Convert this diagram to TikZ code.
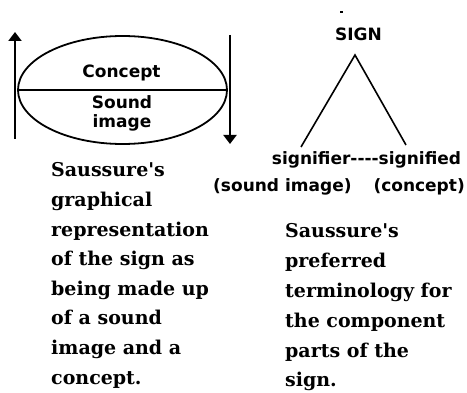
\documentclass[tikz,border=0pt]{standalone}
\usepackage{fontspec}
\newfontfamily\labelfont{DejaVu Sans}
\newfontfamily\bodyfont{DejaVu Serif}
\usetikzlibrary{arrows.meta,shapes.geometric}
\begin{document}
\begin{tikzpicture}[x=1pt,y=-1pt,
  sanslabel/.style={inner sep=0pt,anchor=base,font=\labelfont\bfseries\fontsize{17}{17}\selectfont},
  bodyline/.style={inner sep=0pt,anchor=base west,font=\bodyfont\bfseries\fontsize{19}{19}\selectfont},
  bigarrow/.style={line width=2.2pt,-{Triangle[width=13pt,length=9pt]}},
  treeline/.style={line width=1.6pt}]
\useasboundingbox (0,0) rectangle (467,393);
% left diagram
\node[draw,ellipse,line width=1.8pt,minimum width=209pt,minimum height=108pt,inner sep=0pt] (ell) at (122.5,90) {};
\draw[line width=1.8pt] (ell.west) -- (ell.east);
\coordinate (upS) at (15,139);
\coordinate (upE) at (15,32);
\coordinate (dnS) at (230,35);
\coordinate (dnE) at (230,144);
\draw[bigarrow] (upS) -- (upE);
\draw[bigarrow] (dnS) -- (dnE);
\node[sanslabel] (concept) at (121.5,78) {Concept};
\node[sanslabel] (sound) at (122,109) {Sound};
\node[sanslabel] (image) at (122,127.5) {image};
% right diagram
\coordinate (dashA) at (340,12);
\coordinate (dashB) at (343,12);
\draw[line width=1.2pt] (dashA) -- (dashB);
\node[sanslabel] (sign) at (358.5,41) {SIGN};
\coordinate (apex) at (355,55);
\coordinate (lft) at (301,147);
\coordinate (rgt) at (406,145);
\draw[treeline] (lft) -- (apex) -- (rgt);
\node[sanslabel] (sfr) at (366.5,165) {signifier----signified};
\node[sanslabel,anchor=base west] (soundimg) at (213,192) {(sound image)};
\node[sanslabel,anchor=base east] (conc) at (465,192) {(concept)};
% left caption
\foreach \t [count=\i] in {Saussure's,graphical,representation,of the sign as,being made up,of a sound,image and a,concept.}
  \node[bodyline] (lc\i) at (51,{177+29.6*(\i-1)}) {\t};
% right caption
\foreach \t [count=\i] in {Saussure's,preferred,terminology for,the component,parts of the,sign.}
  \node[bodyline] (rc\i) at (285,{238+29.8*(\i-1)}) {\t};
\end{tikzpicture}
\end{document}
